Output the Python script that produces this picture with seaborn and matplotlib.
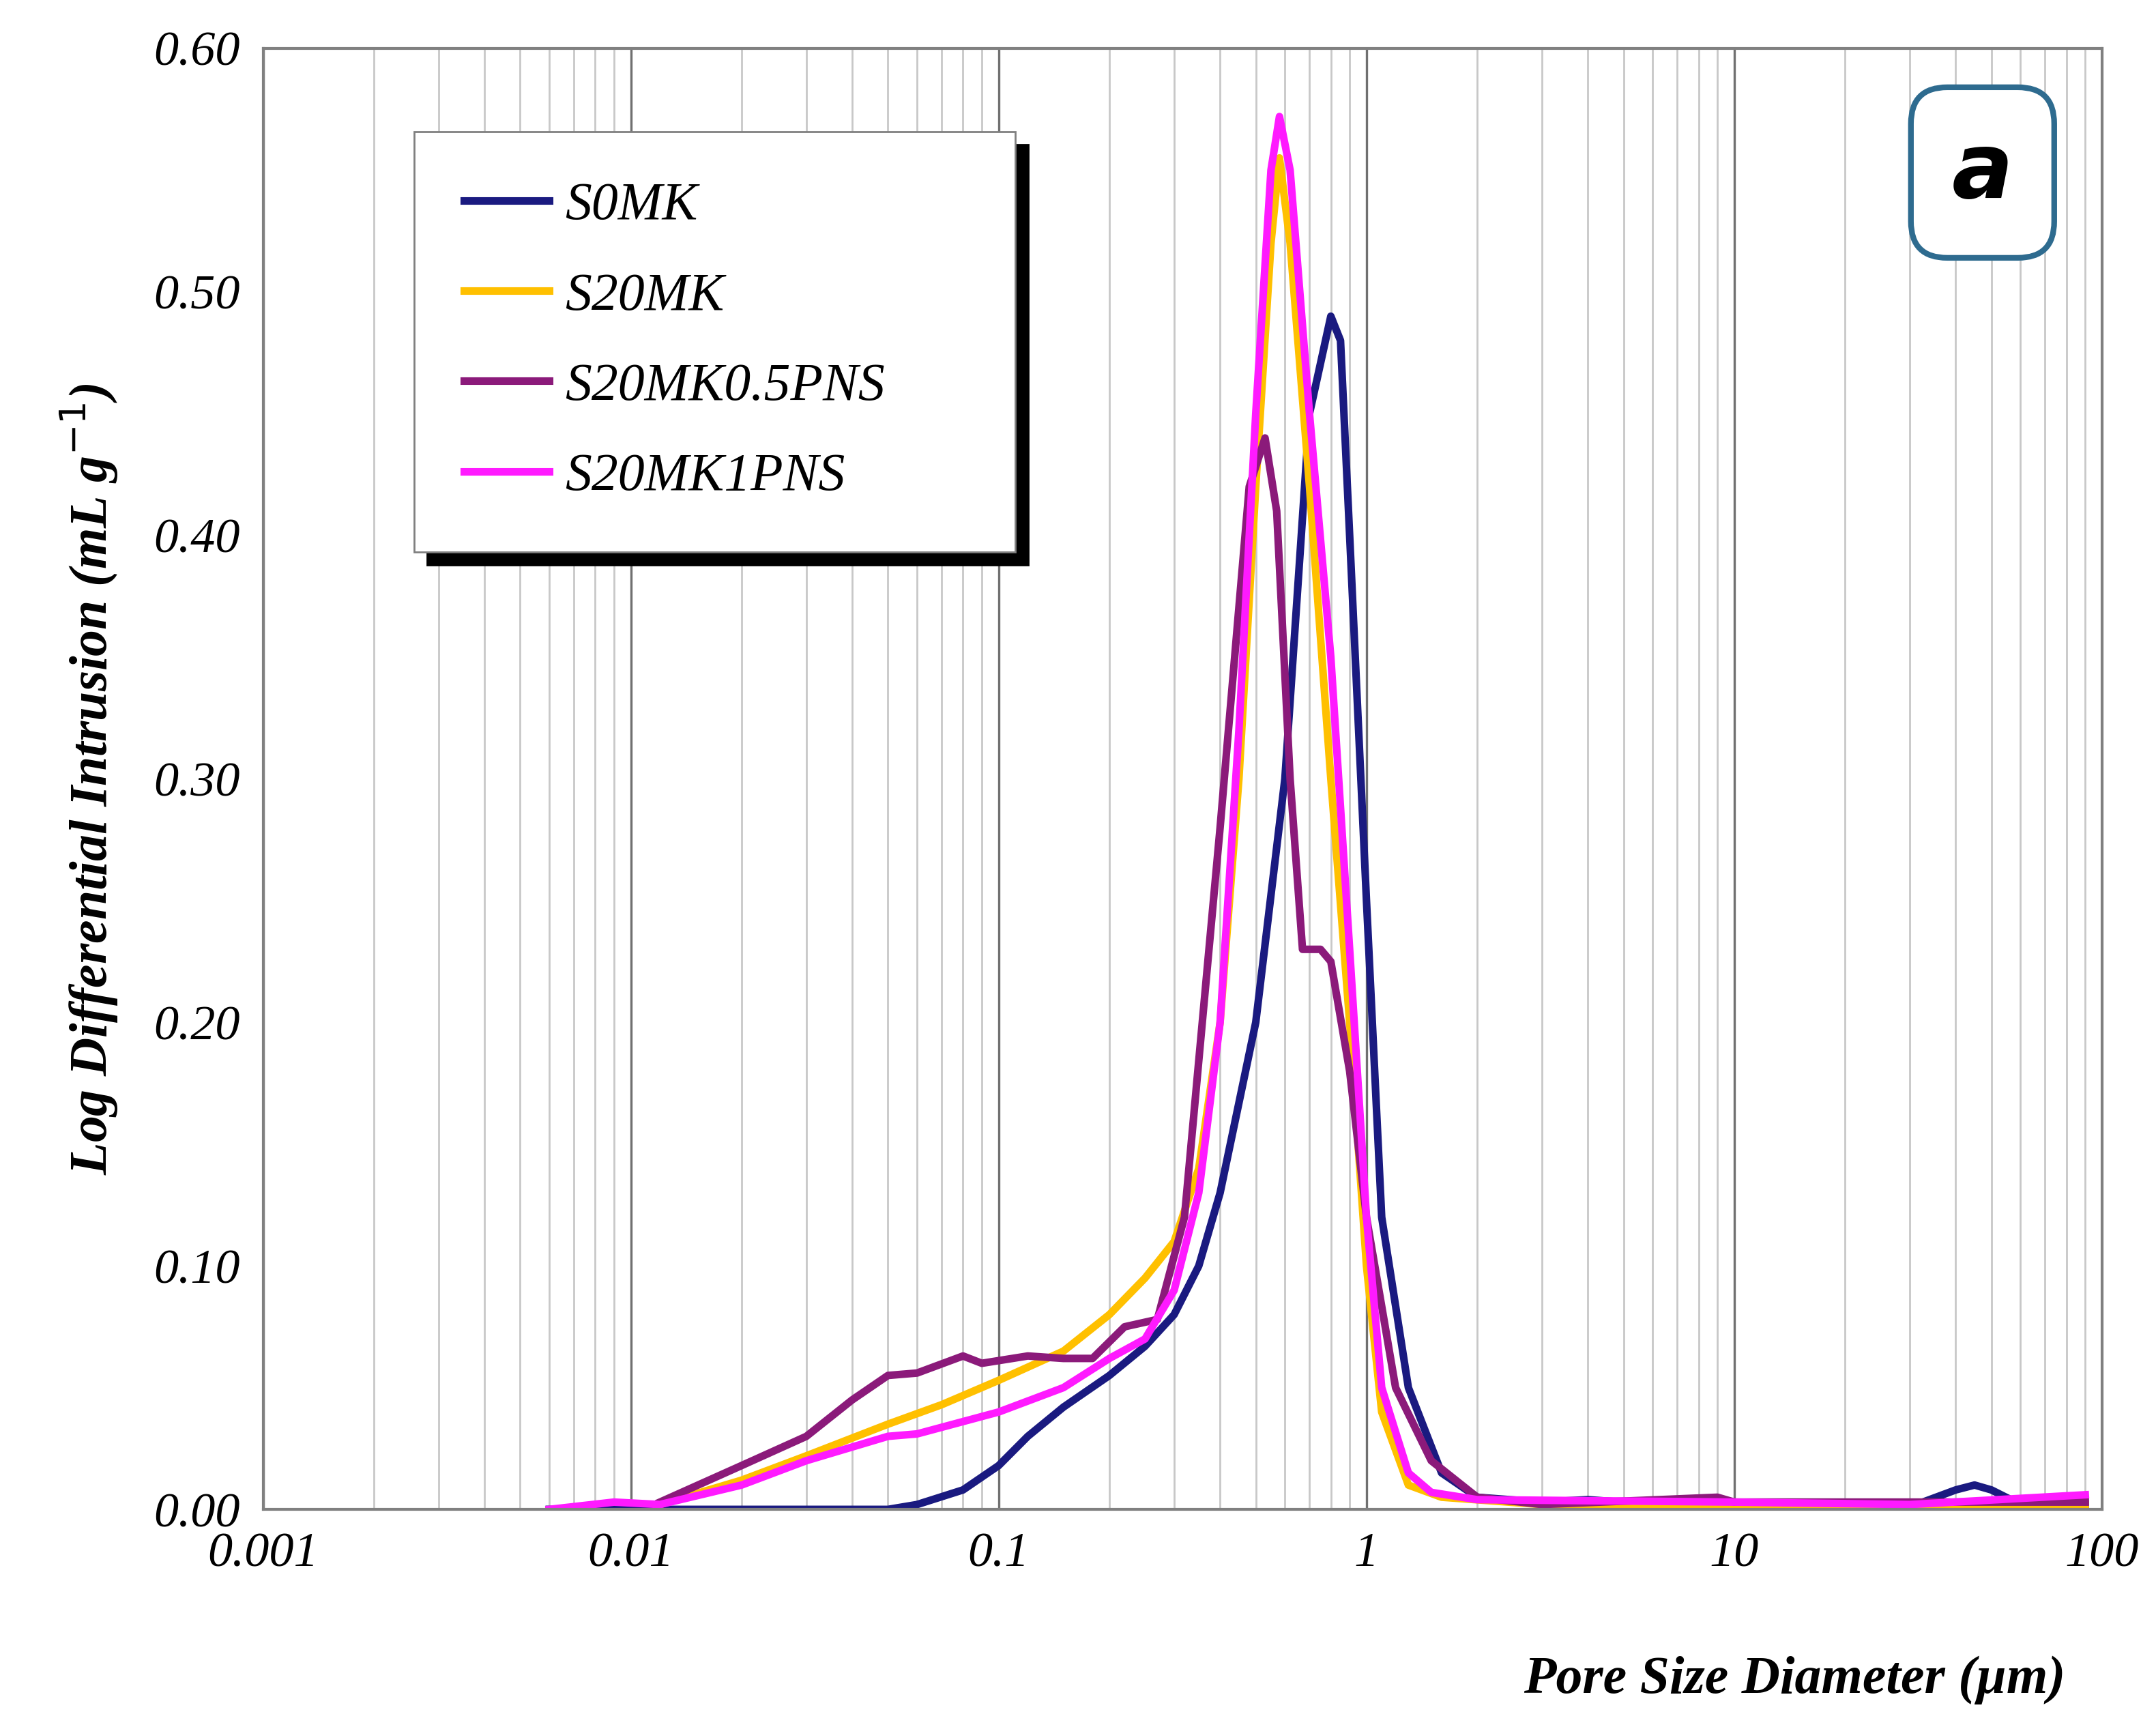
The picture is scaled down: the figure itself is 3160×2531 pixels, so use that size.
import matplotlib
matplotlib.use("Agg")
import matplotlib.pyplot as plt
import matplotlib.ticker as mticker
import seaborn as sns
import pandas as pd

# pore diameter (um) vs log differential intrusion (mL/g)
s0mk_x = [0.006, 0.02, 0.05, 0.06, 0.08, 0.1, 0.12, 0.15, 0.2, 0.25, 0.3, 0.35, 0.4, 0.5, 0.6, 0.7, 0.8,
          0.85, 0.9, 1.0, 1.1, 1.3, 1.6, 2, 3, 4, 6, 10, 20, 30, 40, 45, 50, 60, 90]
s0mk_y = [0.0, 0.0, 0.0, 0.002, 0.008, 0.018, 0.03, 0.042, 0.055, 0.067, 0.08, 0.1, 0.13, 0.2, 0.3, 0.45, 0.49,
          0.48, 0.4, 0.25, 0.12, 0.05, 0.015, 0.005, 0.003, 0.004, 0.002, 0.002, 0.002, 0.001, 0.008, 0.01, 0.008, 0.002, 0.002]

s20mk_x = [0.012, 0.02, 0.03, 0.05, 0.07, 0.1, 0.15, 0.2, 0.25, 0.3, 0.35, 0.4, 0.45, 0.5, 0.55, 0.58, 0.62,
           0.7, 0.8, 0.9, 1.0, 1.1, 1.3, 1.6, 3, 10, 90]
s20mk_y = [0.002, 0.012, 0.022, 0.035, 0.043, 0.053, 0.065, 0.08, 0.095, 0.11, 0.14, 0.2, 0.3, 0.42, 0.52, 0.555, 0.52,
           0.42, 0.3, 0.2, 0.1, 0.04, 0.01, 0.005, 0.002, 0.002, 0.002]

s20mk05_x = [0.012, 0.02, 0.03, 0.04, 0.05, 0.06, 0.08, 0.09, 0.12, 0.15, 0.18, 0.22, 0.27, 0.32, 0.4, 0.48, 0.53,
             0.57, 0.62, 0.67, 0.75, 0.8, 0.9, 1.0, 1.2, 1.5, 2, 3, 9, 10, 90]
s20mk05_y = [0.003, 0.018, 0.03, 0.045, 0.055, 0.056, 0.063, 0.06, 0.063, 0.062, 0.062, 0.075, 0.078, 0.12, 0.28, 0.42, 0.44,
             0.41, 0.3, 0.23, 0.23, 0.225, 0.18, 0.12, 0.05, 0.02, 0.005, 0.002, 0.005, 0.003, 0.003]

s20mk1_x = [0.006, 0.009, 0.012, 0.02, 0.03, 0.05, 0.06, 0.1, 0.15, 0.2, 0.25, 0.3, 0.35, 0.4, 0.45, 0.5, 0.55,
            0.58, 0.62, 0.7, 0.8, 0.9, 1.0, 1.1, 1.3, 1.5, 2, 10, 30, 90]
s20mk1_y = [0.0, 0.003, 0.002, 0.01, 0.02, 0.03, 0.031, 0.04, 0.05, 0.062, 0.07, 0.09, 0.13, 0.2, 0.32, 0.45, 0.55,
            0.572, 0.55, 0.45, 0.35, 0.23, 0.12, 0.05, 0.015, 0.007, 0.004, 0.003, 0.002, 0.006]

series = [("S0MK", s0mk_x, s0mk_y, "#1a1a80"),
          ("S20MK", s20mk_x, s20mk_y, "#ffc000"),
          ("S20MK0.5PNS", s20mk05_x, s20mk05_y, "#8b1a7a"),
          ("S20MK1PNS", s20mk1_x, s20mk1_y, "#ff1aff")]

serif = "Liberation Serif"
fig = plt.figure(figsize=(15.8, 12.655), dpi=200)
ax = fig.add_axes([0.122, 0.126, 0.853, 0.846])

for name, xs, ys, col in series:
    df = pd.DataFrame({"x": xs, "y": ys})
    sns.lineplot(data=df, x="x", y="y", ax=ax, color=col, lw=4, label=name, sort=False)

ax.set_xscale("log")
ax.set_xlim(0.001, 100)
ax.set_ylim(0, 0.6)
ax.set_yticks([i / 10 for i in range(7)])
ax.yaxis.set_major_formatter(mticker.FormatStrFormatter("%.2f"))
ax.xaxis.set_major_locator(mticker.FixedLocator([0.001, 0.01, 0.1, 1, 10, 100]))
ax.set_xticklabels(["0.001", "0.01", "0.1", "1", "10", "100"])
ax.xaxis.set_minor_formatter(mticker.NullFormatter())
ax.grid(which="major", axis="x", color="#707070", lw=1.2)
ax.grid(which="minor", axis="x", color="#c8c8c8", lw=1.0)
ax.tick_params(which="both", length=0, pad=12)
for s in ax.spines.values():
    s.set_color("#808080")
    s.set_linewidth(1.5)
for lab in ax.get_xticklabels() + ax.get_yticklabels():
    lab.set_fontfamily(serif)
    lab.set_fontstyle("italic")
    lab.set_fontsize(26)

ax.set_xlabel("Pore Size Diameter (µm)", fontfamily=serif, fontstyle="italic", fontweight="bold", fontsize=28)
ax.xaxis.set_label_coords(0.98, -0.1)
ax.xaxis.label.set_ha("right")
ax.set_ylabel("Log Differential Intrusion (mL g$^{-1}$)", fontfamily=serif, fontstyle="italic",
              fontweight="bold", fontsize=28, labelpad=18)

leg = ax.legend(loc="upper left", bbox_to_anchor=(0.082, 0.683, 0.327, 0.26), mode="expand",
                borderaxespad=0, frameon=True, fancybox=False,
                shadow={"color": "black", "alpha": 1, "ox": 7, "oy": -7}, edgecolor="#808080", borderpad=0.95,
                handlelength=1.6, handletextpad=0.3, labelspacing=0.78,
                prop={"family": serif, "style": "italic", "size": 28})
leg.get_frame().set_boxstyle("square", pad=0)
for line in leg.get_lines():
    line.set_linewidth(4)
# shift entries right inside the widened box
leg._legend_handle_box.set_offset(lambda w, h, xd, yd, r: (55 + xd, yd))

ax.text(0.935, 0.915, "a", transform=ax.transAxes, fontsize=48, fontweight="bold", fontstyle="italic",
        ha="center", va="center", fontfamily="DejaVu Sans",
        bbox=dict(boxstyle="round,pad=0.45,rounding_size=0.4", fc="white", ec="#2e6b8f", lw=3))

fig.savefig("out.png", dpi=200)
